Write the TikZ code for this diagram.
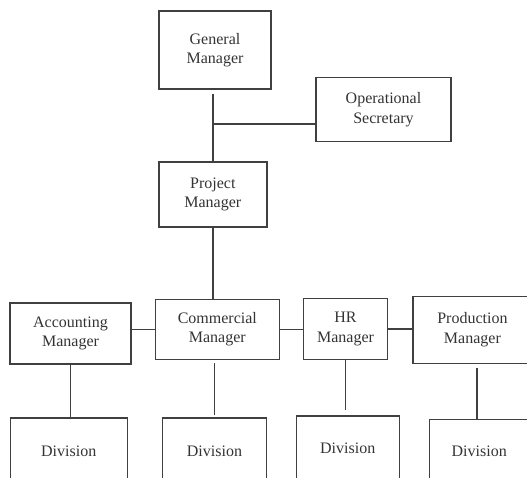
\documentclass[tikz,border=0pt]{standalone}
\usepackage{fontspec}
\setmainfont{Liberation Serif}
\begin{document}
\begin{tikzpicture}[x=1pt,y=-1pt,
  box/.style={draw=black!75, line width=1.4pt, rectangle, inner sep=0pt,
    align=center, text=black!80, font=\fontsize{16}{19.5}\selectfont},
  conn/.style={draw=black!75, line width=1.4pt}]
\useasboundingbox (0,0) rectangle (527,478);
\clip (0,0) rectangle (527,478);
\node[box, minimum width=112pt, minimum height=78pt] (gm) at (215,50) {General\\Manager};
\node[box, minimum width=135pt, minimum height=64pt] (os) at (383.5,109.6) {Operational\\Secretary};
\node[box, minimum width=108pt, minimum height=65pt] (pm) at (212.8,194.5) {Project\\Manager};
\node[box, minimum width=121pt, minimum height=61pt] (am) at (70.5,333.3) {Accounting\\Manager};
\node[box, minimum width=124pt, minimum height=60pt] (cm) at (217.3,329.3) {Commercial\\Manager};
\node[box, minimum width=84pt, minimum height=61pt] (hr) at (345.5,328.8) {HR\\Manager};
\node[box, minimum width=119pt, minimum height=67pt] (prm) at (472.4,329.7) {Production\\Manager};
\node[box, minimum width=117pt, minimum height=66pt] (d1) at (68.7,451) {Division};
\node[box, minimum width=104pt, minimum height=66pt] (d2) at (214.5,451) {Division};
\node[box, minimum width=103pt, minimum height=64pt] (d3) at (347.7,448) {Division};
\node[box, minimum width=100pt, minimum height=65pt] (d4) at (479.2,451.7) {Division};
\coordinate (j) at (212.8,124);
\draw[conn] ([yshift=-4pt]gm.south -| pm.north) -- (pm.north);
\draw[conn] (j) -- (j -| os.west);
\draw[conn] (pm.south) -- (pm.south |- cm.north);
\draw[conn] (cm.west) -- (cm.west -| am.east);
\draw[conn] (cm.east) -- (cm.east -| hr.west);
\draw[conn] (hr.east) -- (hr.east -| prm.west);
\draw[conn] (am.south) -- (am.south |- d1.north);
\draw[conn] ([yshift=-3pt]d2.north |- cm.south) -- ([yshift=2pt]d2.north);
\draw[conn] (hr.south) -- ([yshift=5pt]hr.south |- d3.north);
\draw[conn] ([xshift=4.5pt,yshift=-4pt]prm.south) -- ([xshift=4.5pt]prm.south |- d4.north);
\end{tikzpicture}
\end{document}
